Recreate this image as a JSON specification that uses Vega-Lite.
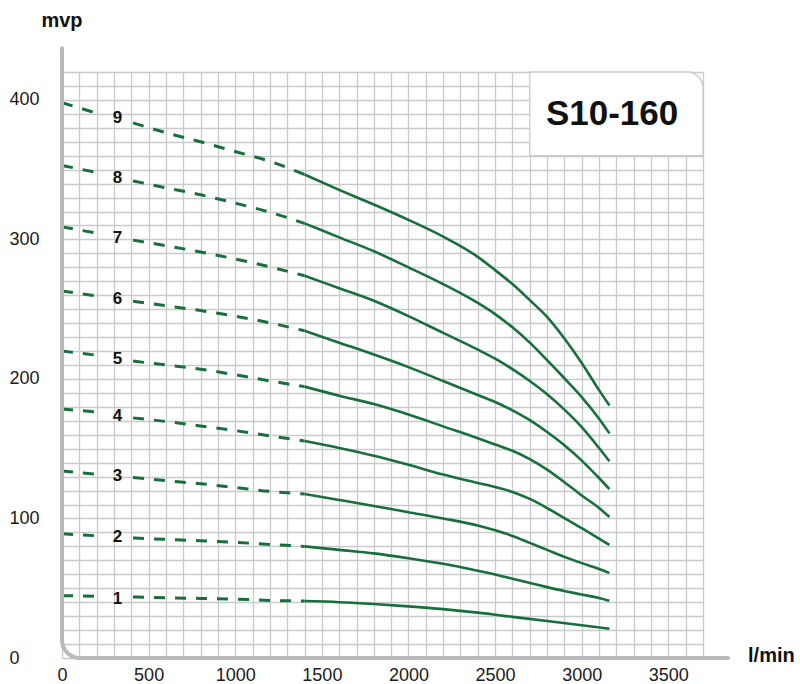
{
  "$schema": "https://vega.github.io/schema/vega-lite/v6.json",
  "width": 641,
  "height": 586,
  "autosize": {"type": "none"},
  "padding": {"left": 62, "top": 72, "right": 97, "bottom": 26},
  "background": "white",
  "datasets": {
    "curves": [
      {"stage":9,"part":"a","q":0,"h":398},{"stage":9,"part":"a","q":200,"h":390.5},
      {"stage":9,"part":"b","q":410,"h":383.5},{"stage":9,"part":"b","q":600,"h":376.5},{"stage":9,"part":"b","q":800,"h":370},{"stage":9,"part":"b","q":1000,"h":363},{"stage":9,"part":"b","q":1200,"h":356},{"stage":9,"part":"b","q":1400,"h":346.5},
      {"stage":9,"part":"s","q":1400,"h":346.5},{"stage":9,"part":"s","q":1600,"h":335.5},{"stage":9,"part":"s","q":1800,"h":325},{"stage":9,"part":"s","q":2000,"h":314},{"stage":9,"part":"s","q":2200,"h":302},{"stage":9,"part":"s","q":2400,"h":287.5},{"stage":9,"part":"s","q":2500,"h":278},{"stage":9,"part":"s","q":2600,"h":268},{"stage":9,"part":"s","q":2700,"h":256.5},{"stage":9,"part":"s","q":2800,"h":244.5},{"stage":9,"part":"s","q":2900,"h":229},{"stage":9,"part":"s","q":3000,"h":211.5},{"stage":9,"part":"s","q":3100,"h":192},{"stage":9,"part":"s","q":3160,"h":181},

      {"stage":8,"part":"a","q":0,"h":353},{"stage":8,"part":"a","q":200,"h":348},
      {"stage":8,"part":"b","q":410,"h":342},{"stage":8,"part":"b","q":600,"h":337},{"stage":8,"part":"b","q":800,"h":332},{"stage":8,"part":"b","q":1000,"h":326},{"stage":8,"part":"b","q":1200,"h":319.5},{"stage":8,"part":"b","q":1400,"h":311.5},
      {"stage":8,"part":"s","q":1400,"h":311.5},{"stage":8,"part":"s","q":1600,"h":301.5},{"stage":8,"part":"s","q":1800,"h":291.5},{"stage":8,"part":"s","q":2000,"h":280},{"stage":8,"part":"s","q":2200,"h":268},{"stage":8,"part":"s","q":2400,"h":254.5},{"stage":8,"part":"s","q":2500,"h":246.5},{"stage":8,"part":"s","q":2600,"h":237},{"stage":8,"part":"s","q":2700,"h":226},{"stage":8,"part":"s","q":2800,"h":213.5},{"stage":8,"part":"s","q":2900,"h":200.5},{"stage":8,"part":"s","q":3000,"h":187},{"stage":8,"part":"s","q":3100,"h":171.5},{"stage":8,"part":"s","q":3160,"h":161},

      {"stage":7,"part":"a","q":0,"h":309},{"stage":7,"part":"a","q":200,"h":304.5},
      {"stage":7,"part":"b","q":410,"h":299.5},{"stage":7,"part":"b","q":600,"h":295.5},{"stage":7,"part":"b","q":800,"h":291},{"stage":7,"part":"b","q":1000,"h":286},{"stage":7,"part":"b","q":1200,"h":280.3},{"stage":7,"part":"b","q":1400,"h":274},
      {"stage":7,"part":"s","q":1400,"h":274},{"stage":7,"part":"s","q":1600,"h":265},{"stage":7,"part":"s","q":1800,"h":256},{"stage":7,"part":"s","q":2000,"h":245},{"stage":7,"part":"s","q":2200,"h":233},{"stage":7,"part":"s","q":2400,"h":221},{"stage":7,"part":"s","q":2500,"h":214.5},{"stage":7,"part":"s","q":2600,"h":207},{"stage":7,"part":"s","q":2700,"h":198.5},{"stage":7,"part":"s","q":2800,"h":189},{"stage":7,"part":"s","q":2900,"h":178},{"stage":7,"part":"s","q":3000,"h":165.5},{"stage":7,"part":"s","q":3100,"h":150.5},{"stage":7,"part":"s","q":3160,"h":141},

      {"stage":6,"part":"a","q":0,"h":263},{"stage":6,"part":"a","q":200,"h":259.5},
      {"stage":6,"part":"b","q":410,"h":255.7},{"stage":6,"part":"b","q":600,"h":252.5},{"stage":6,"part":"b","q":800,"h":249},{"stage":6,"part":"b","q":1000,"h":245},{"stage":6,"part":"b","q":1200,"h":240.2},{"stage":6,"part":"b","q":1400,"h":234.5},
      {"stage":6,"part":"s","q":1400,"h":234.5},{"stage":6,"part":"s","q":1600,"h":226},{"stage":6,"part":"s","q":1800,"h":217.5},{"stage":6,"part":"s","q":2000,"h":208.5},{"stage":6,"part":"s","q":2200,"h":198.5},{"stage":6,"part":"s","q":2400,"h":188.5},{"stage":6,"part":"s","q":2500,"h":183.5},{"stage":6,"part":"s","q":2600,"h":177.5},{"stage":6,"part":"s","q":2700,"h":170.5},{"stage":6,"part":"s","q":2800,"h":162},{"stage":6,"part":"s","q":2900,"h":152.5},{"stage":6,"part":"s","q":3000,"h":141.5},{"stage":6,"part":"s","q":3100,"h":129},{"stage":6,"part":"s","q":3160,"h":121},

      {"stage":5,"part":"a","q":0,"h":220},{"stage":5,"part":"a","q":200,"h":217},
      {"stage":5,"part":"b","q":410,"h":212.8},{"stage":5,"part":"b","q":600,"h":210},{"stage":5,"part":"b","q":800,"h":207},{"stage":5,"part":"b","q":1000,"h":203},{"stage":5,"part":"b","q":1200,"h":198.6},{"stage":5,"part":"b","q":1400,"h":194.5},
      {"stage":5,"part":"s","q":1400,"h":194.5},{"stage":5,"part":"s","q":1600,"h":188},{"stage":5,"part":"s","q":1800,"h":182},{"stage":5,"part":"s","q":2000,"h":174.5},{"stage":5,"part":"s","q":2200,"h":166},{"stage":5,"part":"s","q":2400,"h":157.5},{"stage":5,"part":"s","q":2500,"h":153},{"stage":5,"part":"s","q":2600,"h":148.5},{"stage":5,"part":"s","q":2700,"h":142.5},{"stage":5,"part":"s","q":2800,"h":135},{"stage":5,"part":"s","q":2900,"h":126},{"stage":5,"part":"s","q":3000,"h":116.5},{"stage":5,"part":"s","q":3100,"h":107.5},{"stage":5,"part":"s","q":3160,"h":101},

      {"stage":4,"part":"a","q":0,"h":178.5},{"stage":4,"part":"a","q":200,"h":176.3},
      {"stage":4,"part":"b","q":410,"h":172.1},{"stage":4,"part":"b","q":600,"h":169.5},{"stage":4,"part":"b","q":800,"h":166.3},{"stage":4,"part":"b","q":1000,"h":163},{"stage":4,"part":"b","q":1200,"h":159.2},{"stage":4,"part":"b","q":1400,"h":155.5},
      {"stage":4,"part":"s","q":1400,"h":155.5},{"stage":4,"part":"s","q":1600,"h":150.5},{"stage":4,"part":"s","q":1800,"h":145},{"stage":4,"part":"s","q":2000,"h":138.5},{"stage":4,"part":"s","q":2200,"h":131.5},{"stage":4,"part":"s","q":2400,"h":125.5},{"stage":4,"part":"s","q":2500,"h":122.5},{"stage":4,"part":"s","q":2600,"h":119},{"stage":4,"part":"s","q":2700,"h":114},{"stage":4,"part":"s","q":2800,"h":107.5},{"stage":4,"part":"s","q":2900,"h":100.2},{"stage":4,"part":"s","q":3000,"h":93},{"stage":4,"part":"s","q":3100,"h":85.5},{"stage":4,"part":"s","q":3160,"h":81},

      {"stage":3,"part":"a","q":0,"h":134},{"stage":3,"part":"a","q":200,"h":131.7},
      {"stage":3,"part":"b","q":410,"h":129.4},{"stage":3,"part":"b","q":600,"h":127.1},{"stage":3,"part":"b","q":800,"h":124.9},{"stage":3,"part":"b","q":1000,"h":122.2},{"stage":3,"part":"b","q":1200,"h":119.4},{"stage":3,"part":"b","q":1400,"h":117.5},
      {"stage":3,"part":"s","q":1400,"h":117.5},{"stage":3,"part":"s","q":1600,"h":113.3},{"stage":3,"part":"s","q":1800,"h":109},{"stage":3,"part":"s","q":2000,"h":104.5},{"stage":3,"part":"s","q":2200,"h":100},{"stage":3,"part":"s","q":2400,"h":95},{"stage":3,"part":"s","q":2500,"h":91.5},{"stage":3,"part":"s","q":2600,"h":87.5},{"stage":3,"part":"s","q":2700,"h":82.5},{"stage":3,"part":"s","q":2800,"h":77.5},{"stage":3,"part":"s","q":2900,"h":72.5},{"stage":3,"part":"s","q":3000,"h":68},{"stage":3,"part":"s","q":3100,"h":63.8},{"stage":3,"part":"s","q":3160,"h":61},

      {"stage":2,"part":"a","q":0,"h":89},{"stage":2,"part":"a","q":200,"h":87.6},
      {"stage":2,"part":"b","q":410,"h":86},{"stage":2,"part":"b","q":600,"h":85},{"stage":2,"part":"b","q":800,"h":84},{"stage":2,"part":"b","q":1000,"h":82.9},{"stage":2,"part":"b","q":1200,"h":81.4},{"stage":2,"part":"b","q":1400,"h":80},
      {"stage":2,"part":"s","q":1400,"h":80},{"stage":2,"part":"s","q":1600,"h":77.5},{"stage":2,"part":"s","q":1800,"h":75},{"stage":2,"part":"s","q":2000,"h":71.5},{"stage":2,"part":"s","q":2200,"h":67.5},{"stage":2,"part":"s","q":2400,"h":62.5},{"stage":2,"part":"s","q":2500,"h":59.8},{"stage":2,"part":"s","q":2600,"h":56.8},{"stage":2,"part":"s","q":2700,"h":53.8},{"stage":2,"part":"s","q":2800,"h":50.8},{"stage":2,"part":"s","q":2900,"h":48},{"stage":2,"part":"s","q":3000,"h":45.5},{"stage":2,"part":"s","q":3100,"h":43},{"stage":2,"part":"s","q":3160,"h":41},

      {"stage":1,"part":"a","q":0,"h":44.7},{"stage":1,"part":"a","q":200,"h":44.2},
      {"stage":1,"part":"b","q":410,"h":43.7},{"stage":1,"part":"b","q":600,"h":43.2},{"stage":1,"part":"b","q":800,"h":42.7},{"stage":1,"part":"b","q":1000,"h":42.2},{"stage":1,"part":"b","q":1200,"h":41.3},{"stage":1,"part":"b","q":1400,"h":40.8},
      {"stage":1,"part":"s","q":1400,"h":40.8},{"stage":1,"part":"s","q":1600,"h":40},{"stage":1,"part":"s","q":1800,"h":38.7},{"stage":1,"part":"s","q":2000,"h":37},{"stage":1,"part":"s","q":2200,"h":35},{"stage":1,"part":"s","q":2400,"h":32.5},{"stage":1,"part":"s","q":2600,"h":29.5},{"stage":1,"part":"s","q":2800,"h":26.5},{"stage":1,"part":"s","q":3000,"h":23.5},{"stage":1,"part":"s","q":3160,"h":21}
    ],
    "labels": [
      {"stage":9,"q":320,"h":387},{"stage":8,"q":320,"h":344},{"stage":7,"q":320,"h":301},
      {"stage":6,"q":320,"h":257},{"stage":5,"q":320,"h":214.5},{"stage":4,"q":320,"h":173.5},
      {"stage":3,"q":320,"h":130.5},{"stage":2,"q":320,"h":86.5},{"stage":1,"q":320,"h":42.5}
    ],
    "one": [{}]
  },
  "layer": [
    {
      "data": {"name": "curves"},
      "transform": [{"filter": "datum.part !== 's'"}],
      "mark": {"type": "line", "color": "#17703b", "strokeWidth": 3, "strokeDash": [11, 10], "interpolate": "monotone"},
      "encoding": {
        "x": {"field": "q", "type": "quantitative",
              "scale": {"domain": [0, 3700], "nice": false, "zero": false},
              "axis": {"title": null, "tickCount": 1000, "values": [0,100,200,300,400,500,600,700,800,900,1000,1100,1200,1300,1400,1500,1600,1700,1800,1900,2000,2100,2200,2300,2400,2500,2600,2700,2800,2900,3000,3100,3200,3300,3400,3500,3600,3700],
                       "format": "d", "labelExpr": "datum.value % 500 === 0 && datum.value <= 3500 ? datum.label : ''",
                       "labelPadding": 8, "labelBaseline": "top"}},
        "y": {"field": "h", "type": "quantitative",
              "scale": {"domain": [0, 420], "nice": false, "zero": false},
              "axis": {"title": null, "tickCount": 1000, "values": [0,10,20,30,40,50,60,70,80,90,100,110,120,130,140,150,160,170,180,190,200,210,220,230,240,250,260,270,280,290,300,310,320,330,340,350,360,370,380,390,400,410,420],
                       "format": "d", "labelExpr": "datum.value % 100 === 0 ? datum.label : ''",
                       "labelAlign": "left", "labelPadding": 53, "labelBaseline": "middle"}},
        "detail": [{"field": "stage"}, {"field": "part"}]
      }
    },
    {
      "data": {"name": "curves"},
      "transform": [{"filter": "datum.part === 's'"}],
      "mark": {"type": "line", "color": "#17703b", "strokeWidth": 2.6, "interpolate": "monotone"},
      "encoding": {
        "x": {"field": "q", "type": "quantitative"},
        "y": {"field": "h", "type": "quantitative"},
        "detail": {"field": "stage"}
      }
    },
    {
      "data": {"name": "labels"},
      "mark": {"type": "text", "font": "Liberation Sans", "fontSize": 17, "fontWeight": "bold", "color": "#111111", "align": "center", "baseline": "middle"},
      "encoding": {
        "x": {"field": "q", "type": "quantitative"},
        "y": {"field": "h", "type": "quantitative"},
        "text": {"field": "stage"}
      }
    },
    {
      "data": {"name": "one"},
      "mark": {"type": "rect", "fill": "white", "stroke": "#c9cacd", "strokeWidth": 1.3, "cornerRadiusTopRight": 16},
      "encoding": {
        "x": {"datum": 2700}, "x2": {"datum": 3700},
        "y": {"datum": 360}, "y2": {"datum": 420}
      }
    },
    {
      "data": {"name": "one"},
      "mark": {"type": "text", "text": "S10-160", "font": "Liberation Sans", "fontSize": 35, "fontWeight": "bold", "color": "#111111", "align": "center", "baseline": "middle"},
      "encoding": {"x": {"datum": 3175}, "y": {"datum": 390}}
    },
    {
      "data": {"name": "one"},
      "mark": {"type": "rule", "color": "#b9babd", "strokeWidth": 4, "strokeCap": "round"},
      "encoding": {"x": {"datum": 0}, "y": {"datum": 12.9}, "y2": {"datum": 437}}
    },
    {
      "data": {"name": "one"},
      "mark": {"type": "rule", "color": "#b9babd", "strokeWidth": 4, "strokeCap": "round"},
      "encoding": {"y": {"datum": 0}, "x": {"datum": 104}, "x2": {"datum": 3844}}
    },
    {
      "data": {"name": "one"},
      "mark": {"type": "point", "shape": "M0,-1 A1,1 0 0 0 1,0", "size": 1296, "filled": false, "stroke": "#b9babd", "strokeWidth": 4, "opacity": 1},
      "encoding": {"x": {"datum": 0}, "y": {"datum": 0}}
    },
    {
      "data": {"name": "one"},
      "mark": {"type": "text", "text": "mvp", "font": "Liberation Sans", "fontSize": 20, "fontWeight": "bold", "color": "#111111", "align": "center", "baseline": "middle"},
      "encoding": {"x": {"datum": 0}, "y": {"datum": 456.5}}
    },
    {
      "data": {"name": "one"},
      "mark": {"type": "text", "text": "l/min", "font": "Liberation Sans", "fontSize": 20, "fontWeight": "bold", "color": "#111111", "align": "left", "baseline": "middle"},
      "encoding": {"x": {"datum": 3960}, "y": {"datum": 1.4}}
    }
  ],
  "config": {
    "view": {"stroke": null},
    "font": "Liberation Sans",
    "axis": {
      "domain": false, "ticks": false, "tickSize": 0,
      "grid": true, "gridColor": "#c9cacd", "gridWidth": 1.3,
      "labelFont": "Liberation Sans", "labelFontSize": 18, "labelColor": "#1a1a1a",
      "labelOverlap": false, "labelBound": false, "labelFlush": false
    }
  }
}
